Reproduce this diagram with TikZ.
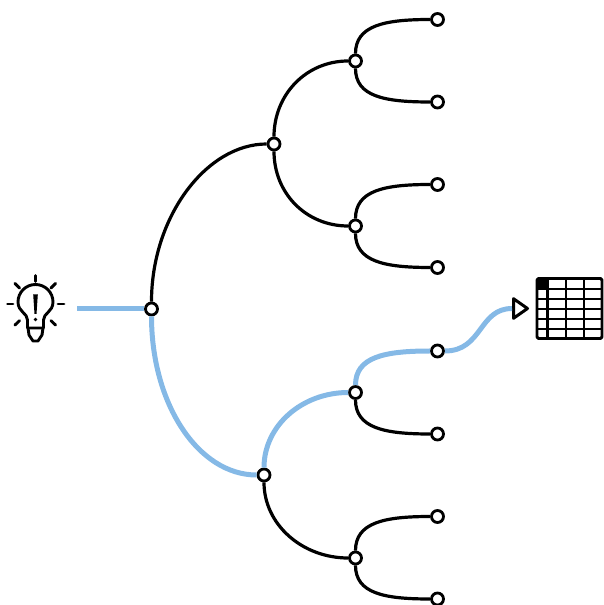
\documentclass[tikz,border=0pt]{standalone}
\usetikzlibrary{shapes.geometric}
\definecolor{pathblue}{HTML}{85B9E6}
\tikzset{
  fork/.style={draw, circle, fill=white, line width=2.8pt, inner sep=0pt, minimum size=12pt},
  branch/.style={line width=3.2pt},
  chosen/.style={pathblue, line width=5pt},
  upper/.style 2 args={out=90, in=180, out distance=#1, in distance=#2},
  lower/.style 2 args={out=-90, in=180, out distance=#1, in distance=#2},
  icon/.style={line width=2.9pt, line cap=round, line join=round},
}
\begin{document}
\begin{tikzpicture}[x=1pt, y=1pt]
  \useasboundingbox (0,0) rectangle (603,605);

  \coordinate (start) at (77,296);
  \node[fork] (root) at (151.5,296) {};
  \node[fork] (up) at (274,461) {};
  \node[fork] (down) at (264,130) {};
  \node[fork] (upa) at (355.5,544) {};
  \node[fork] (upb) at (355.5,379) {};
  \node[fork] (downa) at (355.5,212.5) {};
  \node[fork] (downb) at (355.5,47) {};
  \foreach \name/\ypos in {l1/585.5, l2/503, l3/420.5, l4/337.5, l5/254, l6/171, l7/88.5, l8/6}
    \node[fork] (\name) at (437.5,\ypos) {};
  \node[draw, isosceles triangle, isosceles triangle apex angle=70, fill=white, line width=3pt,
    line join=round, inner sep=0pt, minimum height=14pt, minimum width=17pt, anchor=west] (tip) at (512,296.5) {};

  \draw[branch] (root) to[upper={85}{60}] (up);
  \draw[branch] (up) to[upper={42}{42}] (upa);
  \draw[branch] (up) to[lower={42}{42}] (upb);
  \foreach \from/\hi/\lo in {upa/l1/l2, upb/l3/l4, downb/l7/l8} {
    \draw[branch] (\from) to[upper={28}{46}] (\hi);
    \draw[branch] (\from) to[lower={28}{46}] (\lo);
  }
  \draw[branch] (downa) to[lower={28}{46}] (l6);
  \draw[branch] (down) to[lower={42}{46}] (downb);

  \draw[chosen] (start) -- (root);
  \draw[chosen] (root) to[lower={88}{58}] (down);
  \draw[chosen] (down) to[upper={42}{46}] (downa);
  \draw[chosen] (downa) to[upper={28}{46}] (l5);
  \draw[chosen] (l5) .. controls +(45,0) and +(-40,0) .. (tip);

  % bulb
  \draw[icon] (27.5,277) -- (27.5,285) .. controls (27.5,292) and (18,293) .. (18,303)
    arc (180:0:17.5) .. controls (53,293) and (43.5,292) .. (43.5,285) -- (43.5,277) -- cycle;
  \draw[icon] (28,277) -- (29,270) -- (33,264) -- (38,264) -- (42,270) -- (43,277);
  \foreach \xa/\ya/\xb/\yb in {35.7/329.5/35.7/323.5, 7.5/301/13/301, 58/301/64/301,
    15/321.5/19.5/317, 55.5/321.5/51/317, 15/280/19.5/284.3, 55.5/280/51/284.3}
    \draw[icon] (\xa,\ya) -- (\xb,\yb);
  \fill (33.2,310.5) -- (37.8,310.5) -- (36.5,291) -- (34.5,291) -- cycle;
  \fill (35.5,285.5) circle (1.9pt);

  % table
  \fill (537,316) rectangle (547.5,326.7);
  \draw[icon, rounded corners=1.5pt] (537,266.5) rectangle (602,326.5);
  \foreach \xpos in {547.5,565.7,583.7}
    \draw[line width=2.2pt] (\xpos,266.5) -- (\xpos,326.5);
  \foreach \ypos in {316,305.7,295.7,285.7,275.7}
    \draw[line width=2.2pt] (537,\ypos) -- (602,\ypos);
\end{tikzpicture}
\end{document}
